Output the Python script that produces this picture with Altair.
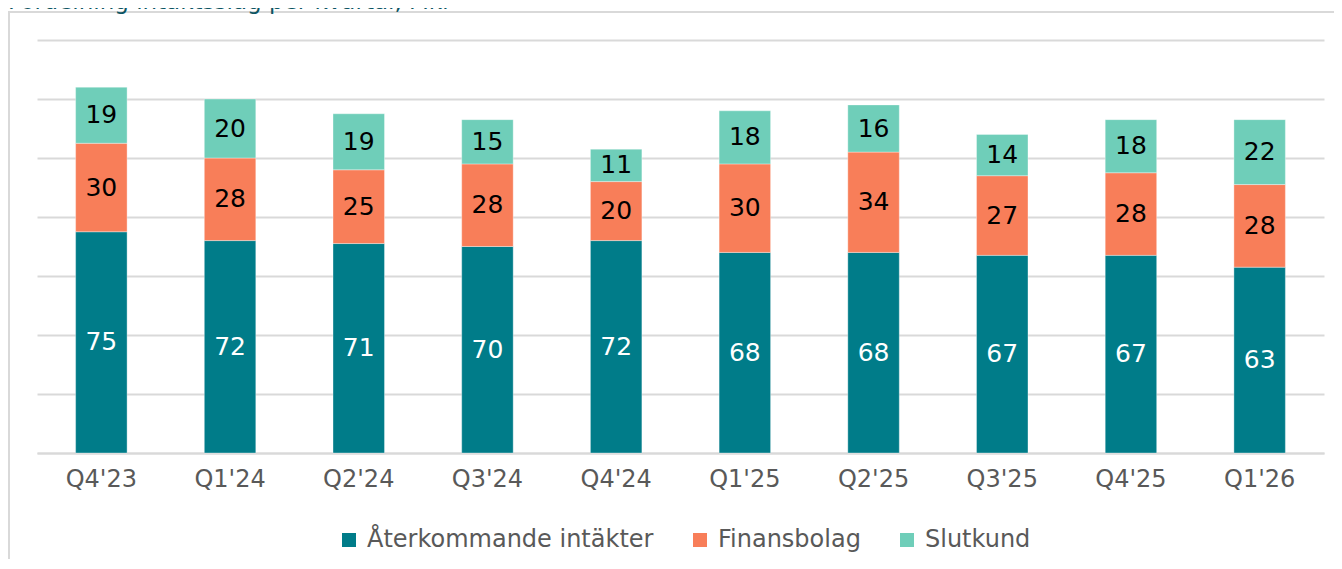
import altair as alt
import pandas as pd

quarters = ["Q4'23", "Q1'24", "Q2'24", "Q3'24", "Q4'24", "Q1'25", "Q2'25", "Q3'25", "Q4'25", "Q1'26"]
aterkommande = [75, 72, 71, 70, 72, 68, 68, 67, 67, 63]
finansbolag = [30, 28, 25, 28, 20, 30, 34, 27, 28, 28]
slutkund = [19, 20, 19, 15, 11, 18, 16, 14, 18, 22]

series_names = ["Återkommande intäkter", "Finansbolag", "Slutkund"]
series_colors = ["#007C89", "#F87E59", "#6FCEB9"]
label_colors = ["white", "black", "black"]
title_text = "Fördelning intäktsslag per kvartal, Mkr"

FONT = "DejaVu Sans"

rows = []
for i, q in enumerate(quarters):
    base = 0
    for s, (name, vals) in enumerate(zip(series_names, [aterkommande, finansbolag, slutkund])):
        v = vals[i]
        rows.append({"quarter": q, "series": name, "value": v, "order": s,
                     "y0": base, "y1": base + v, "mid": base + v / 2,
                     "lblcolor": label_colors[s]})
        base += v
df = pd.DataFrame(rows)

x_enc = alt.X("quarter:N", sort=quarters, title=None,
              scale=alt.Scale(paddingInner=0.6, paddingOuter=0.3),
              axis=alt.Axis(labelAngle=0, labelFontSize=24, labelColor="#595959", labelFont=FONT,
                            labelPadding=14, ticks=False, domainColor="#D9D9D9", domainWidth=2))
y_scale = alt.Scale(domain=[0, 140], nice=False)

bars = alt.Chart(df).mark_bar(stroke="white", strokeWidth=1, strokeOpacity=0.35).encode(
    x=x_enc,
    y=alt.Y("y0:Q", scale=y_scale, title=None,
            axis=alt.Axis(values=[0, 20, 40, 60, 80, 100, 120, 140], labels=False, ticks=False,
                          domain=False, gridColor="#D9D9D9", gridWidth=2)),
    y2="y1:Q",
    color=alt.Color("series:N", sort=series_names,
                    scale=alt.Scale(domain=series_names, range=series_colors),
                    legend=alt.Legend(title=None, orient="none", direction="horizontal",
                                      legendX=300, legendY=488, symbolType="square",
                                      symbolSize=196, symbolStrokeWidth=0, labelFontSize=24,
                                      labelFont=FONT, labelColor="#595959", labelOffset=6,
                                      labelLimit=0, columnPadding=34)),
    order=alt.Order("order:Q"),
)

labels = alt.Chart(df).mark_text(font=FONT, fontSize=25, baseline="middle", align="center").encode(
    x=alt.X("quarter:N", sort=quarters),
    y=alt.Y("mid:Q", scale=y_scale),
    text=alt.Text("value:Q"),
    color=alt.Color("lblcolor:N", scale=None, legend=None),
)

frame = alt.Chart(alt.Data(values=[{"a": 1}])).mark_rect(
    fill=None, stroke="#D9D9D9", strokeWidth=2).encode(
    x=alt.value(-28), x2=alt.value(1500), y=alt.value(-28), y2=alt.value(700))

title = alt.Chart(alt.Data(values=[{"t": title_text}])).mark_text(
    font=FONT, fontSize=23, color="#0D5563", align="left", baseline="alphabetic").encode(
    x=alt.value(-29), y=alt.value(-31), text="t:N")

chart = alt.layer(frame, bars, labels, title).properties(
    width=1287, height=413,
    autosize=alt.AutoSizeParams(type="none"),
    padding={"left": 29, "top": 32, "right": 10, "bottom": 106},
).configure_view(stroke=None)

chart.save("out.html", embed_options={"renderer": "svg", "actions": False})
